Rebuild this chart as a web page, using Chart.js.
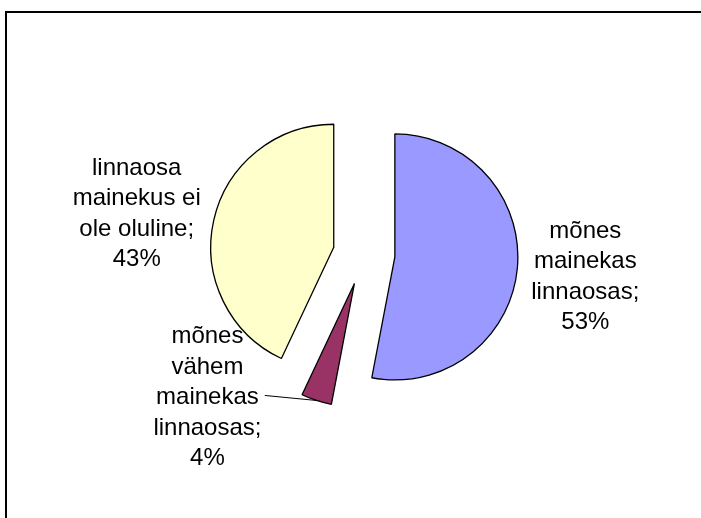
<!DOCTYPE html>
<html>
<head>
<meta charset="utf-8">
<script src="https://cdn.jsdelivr.net/npm/chart.js@4"></script>
<style>
  body { margin: 0; background: #fff; }
  canvas { display: block; }
</style>
</head>
<body>
<canvas id="pie" width="701" height="518"></canvas>
<script>
// andmed
const kategooriad = ['mõnes mainekas linnaosas', 'mõnes vähem mainekas linnaosas', 'linnaosa mainekus ei ole oluline']
const osakaalud = [53, 4, 43]
const sildiRead = [
    ['mõnes', 'mainekas', 'linnaosas;'],
    ['mõnes', 'vähem', 'mainekas', 'linnaosas;'],
    ['linnaosa', 'mainekus ei', 'ole oluline;']
]
const varvid = ['#9999ff', '#993366', '#ffffcc']

// kujundus
const plahvatus = 31          // kui kaugele lõigud keskelt nihkuvad
const sildiNihe = [[68, 15], [-109, 4], [-77, 0]]   // sildi kese lõigu välisserva keskpunktist
const reaSamm = 30.5
const font = '24px "Liberation Sans", Arial, sans-serif'

function keskNurk(arc) {
    return (arc.startAngle + arc.endAngle) / 2
}

// joonistab lõigud ise, et iga lõik nihkuks välja (exploded pie)
const plahvatusPlugin = {
    id: 'plahvatus',
    beforeDatasetDraw(chart, args) {
        const ctx = chart.ctx
        args.meta.data.forEach(arc => {
            const a = keskNurk(arc)
            ctx.save()
            ctx.translate(Math.cos(a) * plahvatus, Math.sin(a) * plahvatus)
            arc.draw(ctx)
            ctx.restore()
        })
        return false
    }
}

const sildidPlugin = {
    id: 'sildid',
    afterDraw(chart) {
        const ctx = chart.ctx
        const meta = chart.getDatasetMeta(0)
        ctx.save()
        ctx.font = font
        ctx.fillStyle = '#000'
        ctx.textAlign = 'center'
        ctx.textBaseline = 'alphabetic'
        meta.data.forEach((arc, i) => {
            const a = keskNurk(arc)
            const r = arc.outerRadius + plahvatus
            const vx = arc.x + Math.cos(a) * r
            const vy = arc.y + Math.sin(a) * r
            const read = sildiRead[i].concat([osakaalud[i] + '%'])
            const cx = vx + sildiNihe[i][0]
            const cy = vy + sildiNihe[i][1]
            read.forEach((t, j) => {
                ctx.fillText(t, cx, cy + (j - (read.length - 1) / 2) * reaSamm)
            })
            // väikesele lõigule juhtjoon
            if (osakaalud[i] < 10) {
                const j = 2
                const w = ctx.measureText(read[j]).width
                const ly = cy + (j - (read.length - 1) / 2) * reaSamm - 9
                ctx.beginPath()
                ctx.strokeStyle = '#000'
                ctx.lineWidth = 1
                ctx.moveTo(cx + w / 2 + 6, ly)
                ctx.lineTo(vx, vy)
                ctx.stroke()
            }
        })
        // raam
        ctx.beginPath()
        ctx.strokeStyle = '#000'
        ctx.lineWidth = 2
        ctx.moveTo(6, 518)
        ctx.lineTo(6, 12)
        ctx.lineTo(701, 12)
        ctx.stroke()
        ctx.restore()
    }
}

const ctx = document.getElementById('pie').getContext('2d')
const pie = new Chart(ctx, {
    type: 'pie',
    data: {
        labels: kategooriad,
        datasets: [{
            data: osakaalud,
            backgroundColor: varvid,
            borderColor: '#000',
            borderWidth: 1.3,
            hoverOffset: 0
        }]
    },
    options: {
        responsive: false,
        animation: false,
        radius: 123,
        layout: { padding: { left: 100, right: 73, top: 100, bottom: 110 } },
        plugins: {
            legend: { display: false },
            tooltip: { enabled: false }
        }
    },
    plugins: [plahvatusPlugin, sildidPlugin]
})
</script>
</body>
</html>
